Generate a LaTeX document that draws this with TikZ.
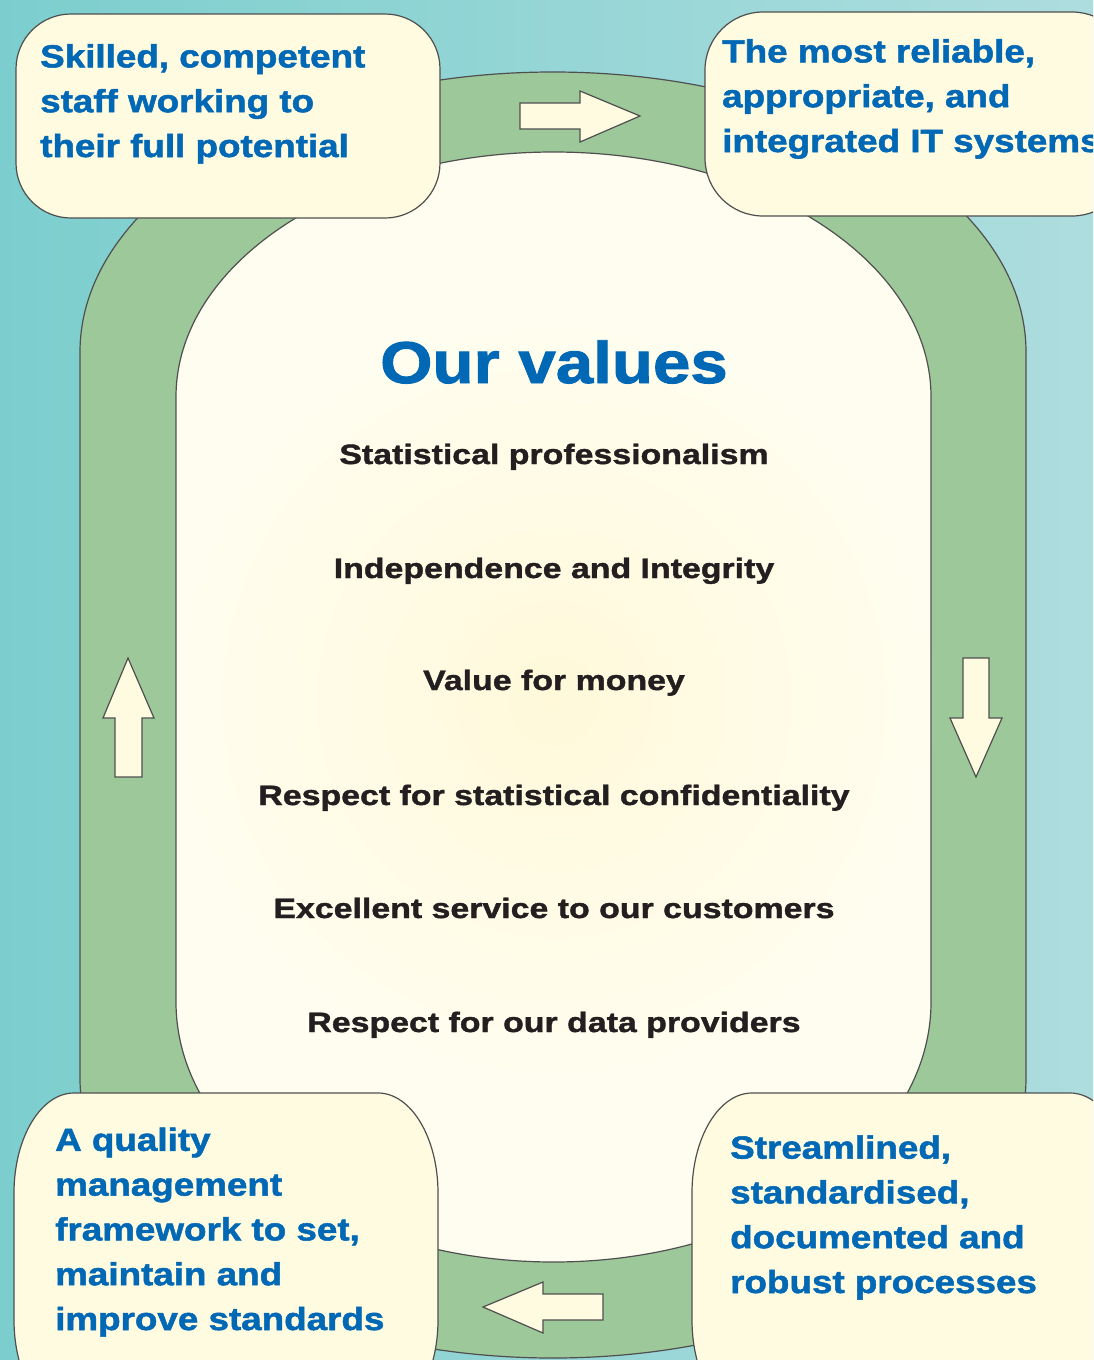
\documentclass[tikz,border=0pt]{standalone}
\usepackage{fontspec}
\setmainfont{Liberation Sans}
\newfontfamily\heavyfont[FakeStretch=1.15,FakeBold=1.6]{Liberation Sans Bold}
\newfontfamily\valuefont[FakeStretch=1.21,FakeBold=1.4]{Liberation Sans Bold}
\newfontfamily\titlefont[FakeStretch=1.14,FakeBold=1.6]{Liberation Sans Bold}
\definecolor{tealL}{HTML}{7CCECE}
\definecolor{tealR}{HTML}{AEDDDE}
\definecolor{ringgreen}{HTML}{9DC89A}
\definecolor{boxcream}{HTML}{FFFBE0}
\definecolor{innercream}{HTML}{FFFDEF}
\definecolor{glow}{HTML}{FFF9DA}
\definecolor{edge}{HTML}{4F4F4F}
\definecolor{txtblue}{HTML}{0068B4}
\definecolor{txtdark}{HTML}{231F20}
\newcommand\ebox[7]{%
  \pgfmathsetmacro\kx{0.5523*#6}\pgfmathsetmacro\ky{0.5523*#7}%
  \path[#1] ({#2+#6},#3) -- ({#4-#6},#3)
    .. controls ({#4-#6+\kx},#3) and (#4,{#3+#7-\ky}) .. (#4,{#3+#7})
    -- (#4,{#5-#7})
    .. controls (#4,{#5-#7+\ky}) and ({#4-#6+\kx},#5) .. ({#4-#6},#5)
    -- ({#2+#6},#5)
    .. controls ({#2+#6-\kx},#5) and (#2,{#5-#7+\ky}) .. (#2,{#5-#7})
    -- (#2,{#3+#7})
    .. controls (#2,{#3+#7-\ky}) and ({#2+#6-\kx},#3) .. ({#2+#6},#3) -- cycle;}
\newcommand\innerpath{(176,397) .. controls (176,261.7) and (345,152) .. (553.5,152)
  .. controls (762,152) and (931,261.7) .. (931,397)
  -- (931,1002) .. controls (931,1145.6) and (762,1262) .. (553.5,1262)
  .. controls (345,1262) and (176,1145.6) .. (176,1002) -- cycle}
\tikzset{
  outline/.style={draw=edge,line width=1.2pt},
  boxshape/.style={outline,fill=boxcream},
  blockarrow/.style={outline,fill=boxcream,line join=miter},
  boxtext/.style={anchor=base west,inner sep=0pt,align=left,text=txtblue,
    font=\heavyfont\fontsize{32}{44.8}\selectfont},
  valuetext/.style={anchor=base,inner sep=0pt,text=txtdark,
    font=\valuefont\fontsize{28}{34}\selectfont},
  titletext/.style={anchor=base,inner sep=0pt,text=txtblue,
    font=\titlefont\fontsize{59}{70}\selectfont}
}
\begin{document}
\begin{tikzpicture}[x=1pt,y=-1pt]
\useasboundingbox (0,0) rectangle (1093,1360);
\clip (0,0) rectangle (1093,1360);
% background
\shade[left color=tealL,right color=tealR] (0,0) rectangle (1093,1360);
% green ring (outer)
\path[outline,fill=ringgreen]
  (80,352) .. controls (80,197.4) and (291.8,72) .. (553,72)
  .. controls (814.2,72) and (1026,197.4) .. (1026,352)
  -- (1026,1078) .. controls (1026,1232.6) and (814.2,1358) .. (553,1358)
  .. controls (291.8,1358) and (80,1232.6) .. (80,1078) -- cycle;
% inner cream area with soft glow
\fill[innercream] \innerpath;
\begin{scope}
\clip \innerpath;
\shade[inner color=glow,outer color=innercream] (554,700) circle[radius=380];
\end{scope}
\draw[outline] \innerpath;
% block arrows
\path[blockarrow] (520,103) -- (580,103) -- (580,91) -- (640,116) -- (580,142) -- (580,129) -- (520,129) -- cycle;
\path[blockarrow] (128,658) -- (154,718) -- (142,718) -- (142,777) -- (115,777) -- (115,718) -- (103,718) -- cycle;
\path[blockarrow] (963,658) -- (989,658) -- (989,718) -- (1002,718) -- (976,777) -- (950,718) -- (963,718) -- cycle;
\path[blockarrow] (483,1307) -- (543,1282) -- (543,1294) -- (603,1294) -- (603,1320) -- (543,1320) -- (543,1333) -- cycle;
% corner boxes
\ebox{boxshape}{16}{14}{440}{218}{55}{55}
\ebox{boxshape}{705}{12}{1130}{216}{58}{58}
\ebox{boxshape}{14}{1093}{438}{1420}{60}{100}
\ebox{boxshape}{692}{1093}{1130}{1420}{60}{100}
% box texts (anchored at the baseline of the last line)
\node[boxtext] (tl) at (40,157) {Skilled, competent\\staff working to\\their full potential};
\node[boxtext] (tr) at (722,152) {The most reliable,\\appropriate, and\\integrated IT systems};
\node[boxtext] (bl) at (55,1330) {A quality\\management\\framework to set,\\maintain and\\improve standards};
\node[boxtext] (br) at (730,1293) {Streamlined,\\standardised,\\documented and\\robust processes};
% title and values
\node[titletext] (title) at (554,383) {Our values};
\node[valuetext] (v1) at (554,464) {Statistical professionalism};
\node[valuetext] (v2) at (554,578) {Independence and Integrity};
\node[valuetext] (v3) at (554,690) {Value for money};
\node[valuetext] (v4) at (554,805) {Respect for statistical confidentiality};
\node[valuetext] (v5) at (554,918) {Excellent service to our customers};
\node[valuetext] (v6) at (554,1032) {Respect for our data providers};
\end{tikzpicture}
\end{document}
